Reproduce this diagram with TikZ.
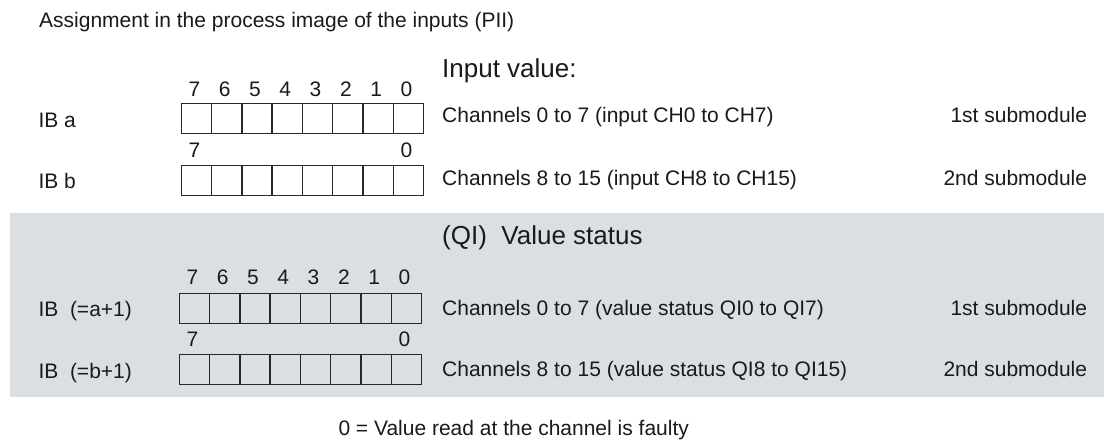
\documentclass[tikz,border=0pt]{standalone}
\usepackage{fontspec}
\setmainfont{Liberation Sans}
\usetikzlibrary{calc}
\definecolor{txt}{RGB}{26,26,26}
\definecolor{band}{RGB}{219,223,226}
\definecolor{cellline}{RGB}{40,40,40}
\begin{document}
\begin{tikzpicture}[x=1pt,y=-1pt,
  lbl/.style={anchor=base west,inner sep=0pt,text=txt,font=\fontsize{21}{25}\selectfont},
  lblr/.style={anchor=base east,inner sep=0pt,text=txt,font=\fontsize{21}{25}\selectfont},
  head/.style={anchor=base west,inner sep=0pt,text=txt,font=\fontsize{26}{31}\selectfont},
  digit/.style={anchor=base,inner sep=0pt,text=txt,font=\fontsize{21}{25}\selectfont},
  cell/.style={draw=cellline,line width=1.4pt,minimum width=30.3pt,minimum height=30pt,inner sep=0pt,anchor=north west}]
\useasboundingbox (0,0) rectangle (1104,440);
\fill[white] (0,0) rectangle (1104,440);
% gray band
\fill[band] (10,213.3) rectangle (1104,396.7);
% title
\node[lbl] (title) at (39,27) {Assignment in the process image of the inputs (PII)};
% headings
\node[head] (hin) at (442,77) {Input value:};
\node[head] (hqi) at (442,244) {(QI)\ \ Value status};
% register rows
\foreach \r/\x/\y in {A/180.5/102.5, B/180.5/164.5, C/178.5/292.5, D/178.5/353.5}{
  \foreach \i in {0,...,7}{
    \node[cell] (\r\i) at ({\x+30.3*\i},\y) {};
  }
}
% bit numbers
\foreach \i/\b in {0/7,1/6,2/5,3/4,4/3,5/2,6/1,7/0}{
  \node[digit] (dA\b) at ($(A\i.north)+(-2,-6.5)$) {\b};
  \node[digit] (dC\b) at ($(C\i.north)+(-2,-8.2)$) {\b};
}
\node[digit] (dB7) at ($(B0.north)+(-2,-7.5)$) {7};
\node[digit] (dB0) at ($(B7.north)+(-2,-7.5)$) {0};
\node[digit] (dD7) at ($(D0.north)+(-2,-7.5)$) {7};
\node[digit] (dD0) at ($(D7.north)+(-2,-7.5)$) {0};
% left labels
\node[lbl] (ia) at (38.3,127) {IB a};
\node[lbl] (ib) at (38.3,188) {IB b};
\node[lbl] (ic) at (38.3,316.7) {IB\ \ (=a+1)};
\node[lbl] (id) at (38.3,378) {IB\ \ (=b+1)};
% descriptions
\node[lbl] (ta) at (442,122) {Channels 0 to 7 (input CH0 to CH7)};
\node[lbl] (tb) at (442,185) {Channels 8 to 15 (input CH8 to CH15)};
\node[lbl] (tc) at (442,315) {Channels 0 to 7 (value status QI0 to QI7)};
\node[lbl] (td) at (442,376.5) {Channels 8 to 15 (value status QI8 to QI15)};
% submodules
\node[lblr] (sa) at (1087.3,122) {1st submodule};
\node[lblr] (sb) at (1087.3,185) {2nd submodule};
\node[lblr] (sc) at (1087.3,315) {1st submodule};
\node[lblr] (sd) at (1087.3,376.5) {2nd submodule};
% note
\node[lbl] (note) at (338.3,435) {0 = Value read at the channel is faulty};
\end{tikzpicture}
\end{document}
